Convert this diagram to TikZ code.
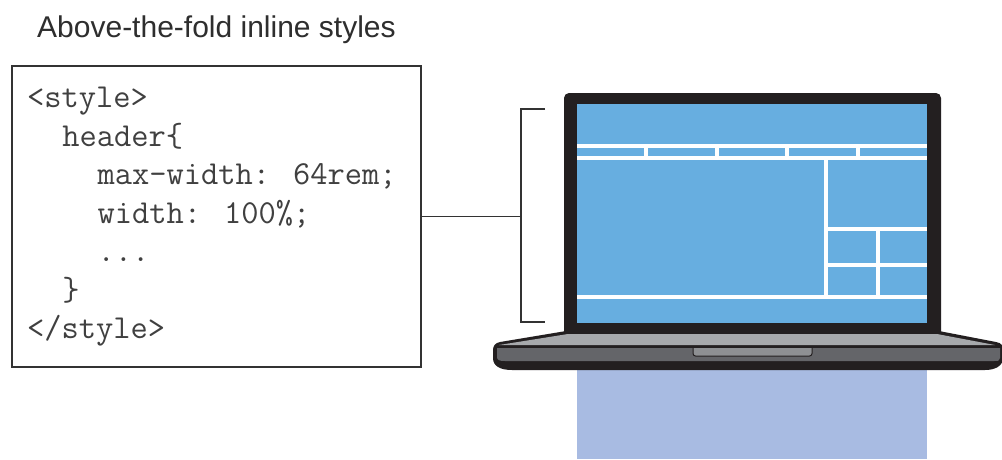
\documentclass[tikz,border=0pt]{standalone}
\usepackage{fontspec}
\setmainfont{Liberation Sans}
\begin{document}
\begin{tikzpicture}[x=1pt,y=-1pt,
  codeline/.style={anchor=base west,inner sep=0pt,font=\ttfamily\fontsize{33.5}{34}\selectfont,text=codegray},
  wline/.style={draw=white,line width=3.8pt},
  bracketline/.style={draw=linegray,line width=1.6pt}]
\definecolor{codegray}{HTML}{404040}
\definecolor{linegray}{HTML}{333333}
\definecolor{titlegray}{HTML}{2E2E2E}
\definecolor{bezel}{HTML}{231F20}
\definecolor{screenblue}{HTML}{67AEE0}
\definecolor{foldblue}{HTML}{A8BBE2}
\definecolor{topgray}{HTML}{A7A9AC}
\definecolor{frontgray}{HTML}{646569}
\definecolor{notchgray}{HTML}{8E9093}
\useasboundingbox (0,0) rectangle (1002,459);
\fill[white] (0,0) rectangle (1002,459);

% title
\node[anchor=base west,inner sep=0pt,font=\fontsize{30}{32}\selectfont,text=titlegray] (title) at (37,37) {Above-the-fold inline styles};

% code box
\node[draw=linegray,line width=1.6pt,minimum width=409pt,minimum height=301pt,inner sep=0pt] (code) at (216.5,216.5) {};
\node[codeline] (l1) at (27,107) {<style>};
\node[codeline] (l2) at (62.2,146) {header\{};
\node[codeline] (l3) at (97.4,184.5) {max-width: 64rem;};
\node[codeline] (l4) at (97.4,223) {width: 100\%;};
\node[codeline] (l5) at (97.4,261.5) {...};
\node[codeline] (l6) at (62.2,300) {\}};
\node[codeline] (l7) at (27,338.5) {</style>};

% bracket marking the visible area
\coordinate (btop) at (545,109);
\coordinate (bbot) at (545,322);
\coordinate (bmid) at (521,216.5);
\draw[bracketline] (btop) -- (521,109) -- (521,322) -- (bbot);
\draw[bracketline] (code.east) -- (bmid);

% area below the fold
\fill[foldblue] (577,365) rectangle (927,459);

% laptop lid
\fill[bezel,rounded corners=5pt] (564,93) rectangle (941,338);
\fill[screenblue] (577,104) rectangle (927,323);

% page layout on screen
\draw[wline] (577,146) -- (927,146);
\draw[wline] (577,158) -- (927,158);
\foreach \x in {646,717,787,858} \draw[wline] (\x,146) -- (\x,158);
\draw[wline] (826,158) -- (826,297);
\draw[wline] (577,297) -- (927,297);
\draw[wline] (826,229) -- (927,229);
\draw[wline] (826,265) -- (927,265);
\draw[wline] (878,229) -- (878,297);

% laptop base
\fill[bezel] (566,331) -- (939,331) -- (996,342)
  .. controls (1002,343) and (1003,346) .. (1003,350)
  -- (1003,358) .. controls (1003,366) and (995,370) .. (985,370)
  -- (512,370) .. controls (500,370) and (493,366) .. (493,358)
  -- (493,350) .. controls (493,346) and (495,343) .. (500,342) -- cycle;
\fill[topgray] (568,334) -- (937,334) -- (995,345) -- (499,345) -- cycle;
\fill[frontgray] (497,348) -- (1000,348) -- (1000,358)
  .. controls (1000,361) and (998,361) .. (994,361)
  -- (505,361) .. controls (499,361) and (497,360) .. (497,357) -- cycle;
\draw[bezel,fill=notchgray,line width=1pt,rounded corners=2.5pt] (693,348) -- (693,356) -- (812,356) -- (812,348);
\end{tikzpicture}
\end{document}
